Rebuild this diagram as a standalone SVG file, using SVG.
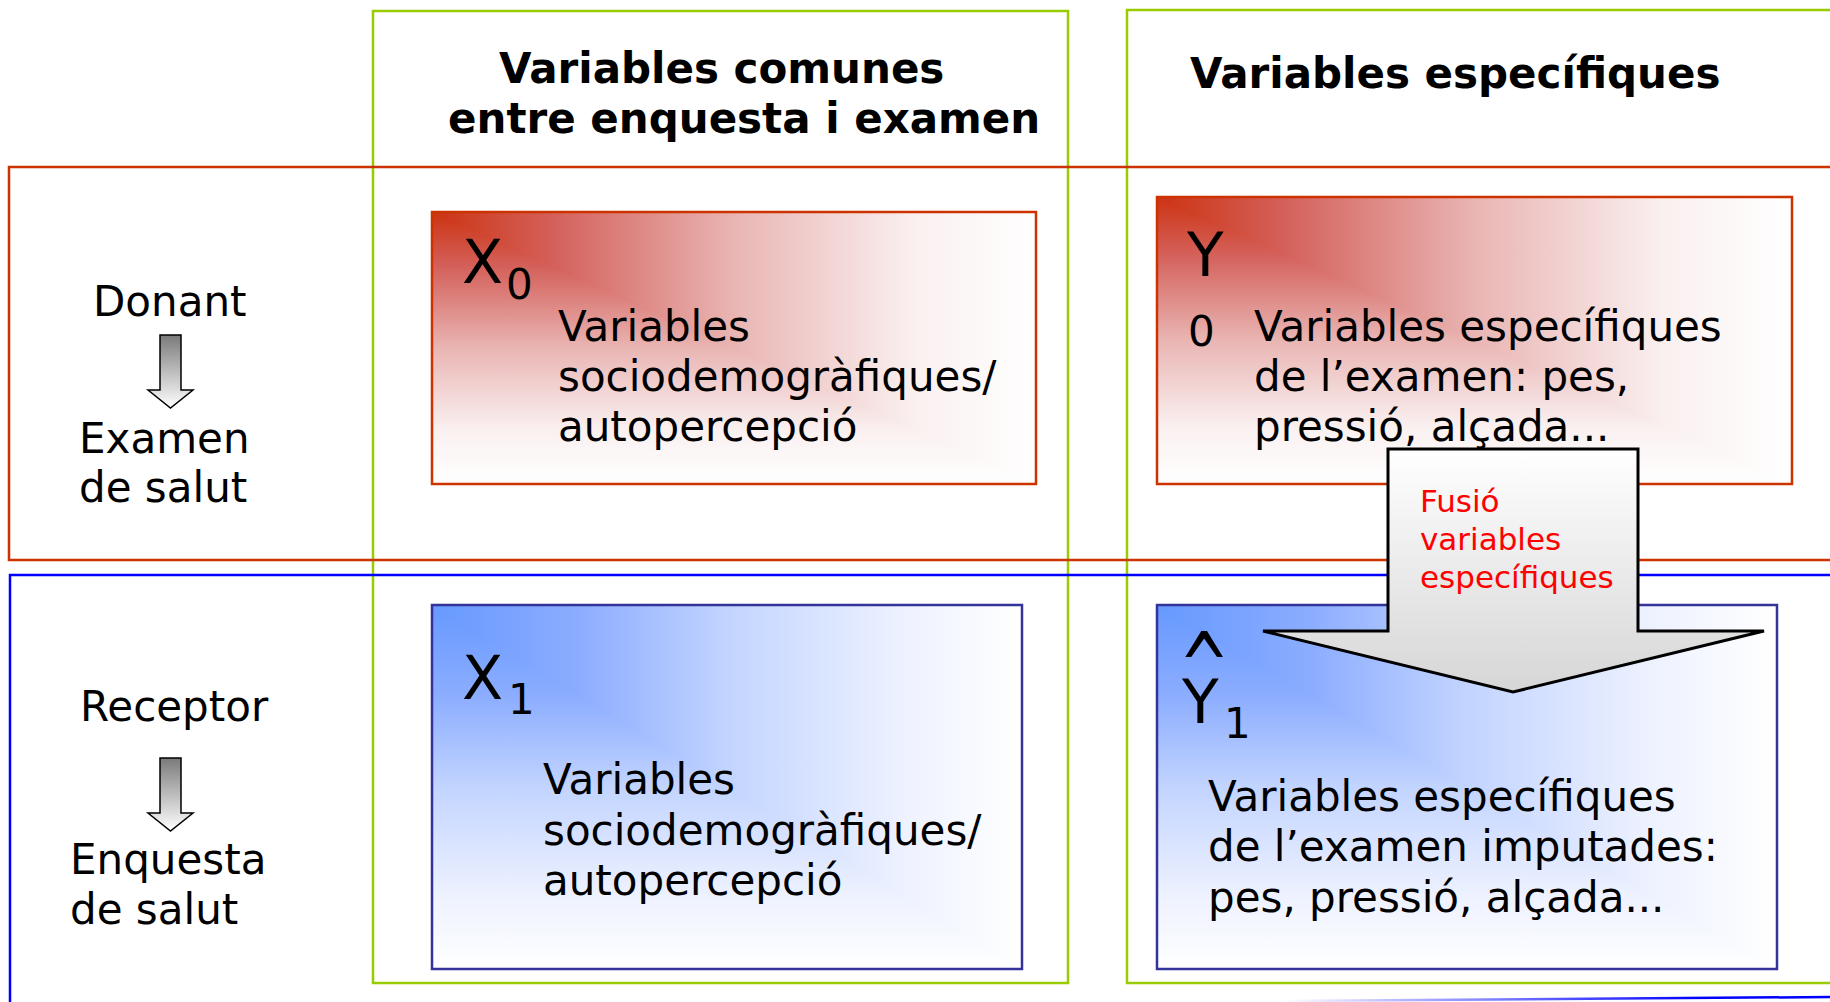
<svg xmlns="http://www.w3.org/2000/svg" width="1830" height="1002" viewBox="0 0 1830 1002">
  <defs>
    <style>
      text { font-family: "DejaVu Sans", Verdana, sans-serif; fill: #000; }
      .head { font-weight: bold; font-size: 42px; }
      .body { font-size: 42px; }
      .big { font-size: 60px; }
      .sub { font-size: 42px; }
      .fus { font-size: 31px; fill: #ff0000; }
      .col { fill: none; stroke: #99cc00; stroke-width: 2.5; }
      .rowR { fill: none; stroke: #cc3300; stroke-width: 2.5; }
      .rowB { fill: none; stroke: #0000ff; stroke-width: 2.5; }
      .boxR { fill: none; stroke: #cc3300; stroke-width: 2.5; }
      .boxB { fill: none; stroke: #333399; stroke-width: 2.5; }
      .small { fill: url(#gSmall); stroke: #000; stroke-width: 1.5; }
    </style>
    <linearGradient id="rh" x1="0" y1="0" x2="1" y2="0">
      <stop offset="0" stop-color="#cc3311"/>
      <stop offset="0.2" stop-color="#d4605a"/>
      <stop offset="0.5" stop-color="#e9b5b3"/>
      <stop offset="0.8" stop-color="#faf0f0"/>
      <stop offset="1" stop-color="#ffffff"/>
    </linearGradient>
    <linearGradient id="rv" x1="0" y1="0" x2="0" y2="1">
      <stop offset="0" stop-color="#cc3311"/>
      <stop offset="0.2" stop-color="#d4605a"/>
      <stop offset="0.5" stop-color="#e9b5b3"/>
      <stop offset="0.8" stop-color="#faf0f0"/>
      <stop offset="1" stop-color="#ffffff"/>
    </linearGradient>
    <linearGradient id="bh" x1="0" y1="0" x2="1" y2="0">
      <stop offset="0" stop-color="#6699ff"/>
      <stop offset="0.25" stop-color="#8cadff"/>
      <stop offset="0.5" stop-color="#c2d4ff"/>
      <stop offset="0.8" stop-color="#eef2ff"/>
      <stop offset="1" stop-color="#ffffff"/>
    </linearGradient>
    <linearGradient id="bv" x1="0" y1="0" x2="0" y2="1">
      <stop offset="0" stop-color="#6699ff"/>
      <stop offset="0.25" stop-color="#8cadff"/>
      <stop offset="0.5" stop-color="#c2d4ff"/>
      <stop offset="0.8" stop-color="#eef2ff"/>
      <stop offset="1" stop-color="#ffffff"/>
    </linearGradient>
    <linearGradient id="gBig" x1="0" y1="0" x2="0" y2="1">
      <stop offset="0" stop-color="#ffffff"/>
      <stop offset="1" stop-color="#d6d6d6"/>
    </linearGradient>
    <linearGradient id="gSmall" x1="0" y1="0" x2="0" y2="1">
      <stop offset="0" stop-color="#7a7a7a"/>
      <stop offset="1" stop-color="#ffffff"/>
    </linearGradient>
    <linearGradient id="gLine" gradientUnits="userSpaceOnUse" x1="1283" y1="0" x2="1700" y2="0">
      <stop offset="0" stop-color="#ffffff"/>
      <stop offset="1" stop-color="#0000ff"/>
    </linearGradient>
  </defs>

  <rect width="1830" height="1002" fill="#ffffff"/>

  <!-- columns -->
  <g id="col-comunes">
    <rect class="col" x="373" y="11" width="695" height="972"/>
    <text class="head" x="499" y="83">Variables comunes</text>
    <text class="head" x="448" y="133">entre enquesta i examen</text>
  </g>
  <g id="col-especifiques">
    <rect class="col" x="1127" y="10" width="760" height="973"/>
    <text class="head" x="1190" y="88">Variables específiques</text>
  </g>

  <!-- rows -->
  <g id="row-donant">
    <rect class="rowR" x="9" y="167" width="1880" height="393"/>
    <text class="body" x="93" y="316">Donant</text>
    <polygon class="small" points="160,335 181,335 181,390 193,390 170.5,408 148,390 160,390"/>
    <text class="body" x="79" y="453">Examen</text>
    <text class="body" x="79" y="502">de salut</text>
  </g>
  <g id="row-receptor">
    <path class="rowB" d="M10,1004 V575 H1832"/>
    <path d="M1283,1001 L1830,997" stroke="url(#gLine)" stroke-width="2.5" fill="none"/>
    <text class="body" x="80" y="721">Receptor</text>
    <polygon class="small" points="160,758 181,758 181,813 193,813 170.5,831 148,813 160,813"/>
    <text class="body" x="70" y="874">Enquesta</text>
    <text class="body" x="70" y="924">de salut</text>
  </g>

  <!-- boxes -->
  <g id="box-x0">
    <rect x="432" y="212" width="604" height="272" fill="url(#rh)"/>
    <polygon points="432,212 432,484 1036,484" fill="url(#rv)"/>
    <rect class="boxR" x="432" y="212" width="604" height="272"/>
    <text class="big" x="462" y="283">X</text>
    <text class="sub" x="506" y="299">0</text>
    <text class="body" x="558" y="341">Variables</text>
    <text class="body" x="558" y="391">sociodemogràfiques/</text>
    <text class="body" x="558" y="441">autopercepció</text>
  </g>
  <g id="box-y0">
    <rect x="1157" y="197" width="635" height="287" fill="url(#rh)"/>
    <polygon points="1157,197 1157,484 1792,484" fill="url(#rv)"/>
    <rect class="boxR" x="1157" y="197" width="635" height="287"/>
    <text class="big" x="1187" y="276">Y</text>
    <text class="sub" x="1188" y="346">0</text>
    <text class="body" x="1254" y="341">Variables específiques</text>
    <text class="body" x="1254" y="391">de l’examen: pes,</text>
    <text class="body" x="1254" y="441">pressió, alçada...</text>
  </g>
  <g id="box-x1">
    <rect x="432" y="605" width="590" height="364" fill="url(#bh)"/>
    <polygon points="432,605 432,969 1022,969" fill="url(#bv)"/>
    <rect class="boxB" x="432" y="605" width="590" height="364"/>
    <text class="big" x="462" y="699">X</text>
    <text class="sub" x="508" y="714">1</text>
    <text class="body" x="543" y="794">Variables</text>
    <text class="body" x="543" y="845">sociodemogràfiques/</text>
    <text class="body" x="543" y="895">autopercepció</text>
  </g>
  <g id="box-y1">
    <rect x="1157" y="605" width="620" height="364" fill="url(#bh)"/>
    <polygon points="1157,605 1157,969 1777,969" fill="url(#bv)"/>
    <rect class="boxB" x="1157" y="605" width="620" height="364"/>
    <text class="big" transform="translate(1179,701) scale(1,1.6)" x="0" y="0">^</text>
    <text class="big" x="1182" y="723">Y</text>
    <text class="sub" x="1224" y="738">1</text>
    <text class="body" x="1208" y="811">Variables específiques</text>
    <text class="body" x="1208" y="861">de l’examen imputades:</text>
    <text class="body" x="1208" y="912">pes, pressió, alçada...</text>
  </g>

  <!-- connector: fusion arrow -->
  <g id="connectors">
    <polygon points="1388,449 1638,449 1638,631 1764,631 1513,692 1263,631 1388,631" fill="url(#gBig)" stroke="#000" stroke-width="3"/>
    <text class="fus" x="1420" y="512">Fusió</text>
    <text class="fus" x="1420" y="550">variables</text>
    <text class="fus" x="1420" y="588">específiques</text>
  </g>
</svg>
